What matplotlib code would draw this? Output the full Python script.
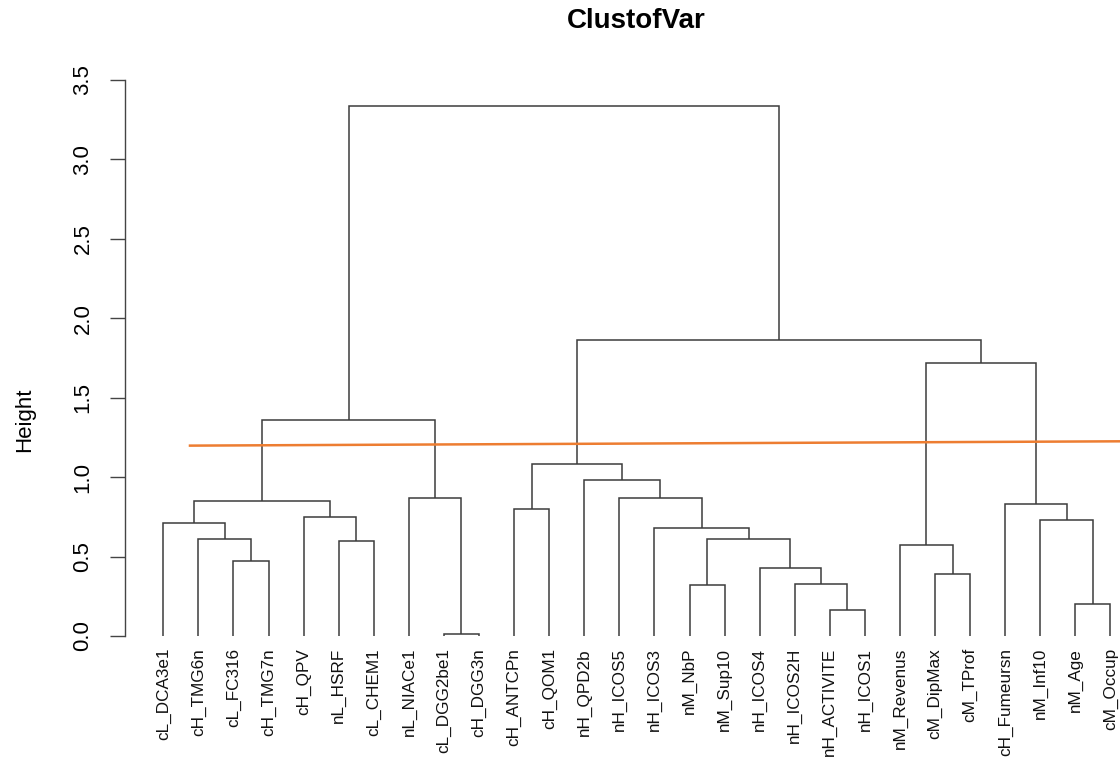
import matplotlib
matplotlib.use("Agg")
import matplotlib.pyplot as plt

plt.rcParams['font.family'] = ['Liberation Sans', 'DejaVu Sans']

# ---- data ----
labels = ["cL_DCA3e1", "cH_TMG6n", "cL_FC316", "cH_TMG7n", "cH_QPV", "nL_HSRF",
          "cL_CHEM1", "nL_NIACe1", "cL_DGG2be1", "cH_DGG3n", "cH_ANTCPn", "cH_QOM1",
          "nH_QPD2b", "nH_ICOS5", "nH_ICOS3", "nM_NbP", "nM_Sup10", "nH_ICOS4",
          "nH_ICOS2H", "nH_ACTIVITE", "nH_ICOS1", "nM_Revenus", "cM_DipMax",
          "cM_TProf", "cH_Fumeursn", "nM_Inf10", "nM_Age", "cM_Occup"]

# merges: (left, right) ; leaves are ints 0..27 (display order), merges "m<k>" (1-based)
merge_left = [2, 1, 0, 5, 4, "m3", 8, 7, "m6", 10, 19, 18, 17, 15, "m14", 14, 13, 12,
              "m10", 22, 21, 26, 25, 24, "m21", "m19", "m9"]
merge_right = [3, "m1", "m2", 6, "m4", "m5", 9, "m7", "m8", 11, 20, "m11", "m12", 16,
               "m13", "m15", "m16", "m17", "m18", 23, "m20", 27, "m22", "m23", "m24",
               "m25", "m26"]
merge_height = [0.47, 0.61, 0.71, 0.60, 0.75, 0.85, 0.012, 0.87, 1.36, 0.80, 0.165,
                0.33, 0.43, 0.32, 0.61, 0.68, 0.87, 0.98, 1.08, 0.39, 0.575, 0.20,
                0.73, 0.83, 1.72, 1.865, 3.335]

cut_x = [1.76, 29.08]
cut_y = [1.198, 1.226]

y_ticks = [0.0, 0.5, 1.0, 1.5, 2.0, 2.5, 3.0, 3.5]

# ---- figure ----
fig = plt.figure(figsize=(11.2, 7.62), dpi=100)
ax = fig.add_axes([0.112, 0.1362, 0.9133, 0.7694])

n = len(labels)
pos = {}
hgt = {}
for i in range(n):
    pos[i] = i + 1
    hgt[i] = 0.0

line_col = '#3c3c3c'
lw = 1.1
for k, (a, b, h) in enumerate(zip(merge_left, merge_right, merge_height), start=1):
    xa, xb = pos[a], pos[b]
    ax.plot([xa, xa, xb, xb], [hgt[a], h, h, hgt[b]], color=line_col, lw=lw,
            solid_joinstyle='miter', solid_capstyle='butt')
    key = "m%d" % k
    pos[key] = (xa + xb) / 2.0
    hgt[key] = h

ax.plot(cut_x, cut_y, color='#ED7D31', lw=1.8, clip_on=False)

for i, lab in enumerate(labels):
    ax.text(i + 1, -0.075, lab, rotation=90, ha='center', va='top', fontsize=12.3,
            color='#111111')

ax.set_xlim(1 - 0.04 * (n - 1), n + 0.04 * (n - 1))
ax.set_ylim(-0.14, 3.55)
for s in ['top', 'right', 'bottom']:
    ax.spines[s].set_visible(False)
ax.spines['left'].set_bounds(0, 3.5)
ax.spines['left'].set_color('#444444')
ax.spines['left'].set_linewidth(1.0)
ax.set_xticks([])
ax.set_yticks(y_ticks)
ax.set_yticklabels(["%.1f" % v for v in y_ticks], rotation=90, va='center', fontsize=16)
ax.tick_params(axis='y', length=11, width=1.0, color='#444444', pad=12)

fig.text(25 / 1120, 1 - 420 / 762, "Height", rotation=90, ha='center', va='center',
         fontsize=16)
fig.text(636 / 1120, 1 - 21 / 762, "ClustofVar", ha='center', va='center',
         fontsize=20, fontweight='bold')

fig.savefig("out.png", dpi=100)
